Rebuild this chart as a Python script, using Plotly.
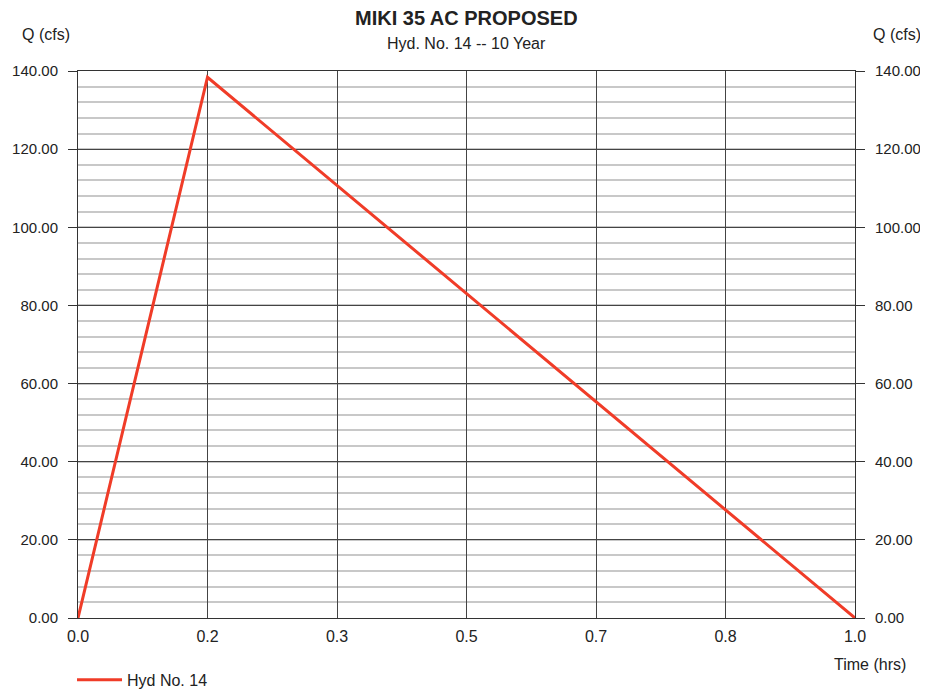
import plotly.graph_objects as go

# Data
time_hrs = [0.0, 1/6, 1.0]
flow_cfs = [0.0, 138.4, 0.0]
x_tick_vals = [0, 1/6, 2/6, 3/6, 4/6, 5/6, 1.0]
x_tick_text = ["0.0", "0.2", "0.3", "0.5", "0.7", "0.8", "1.0"]
y_tick_vals = [0, 20, 40, 60, 80, 100, 120, 140]
y_tick_text = ["0.00", "20.00", "40.00", "60.00", "80.00", "100.00", "120.00", "140.00"]

FONT = "Liberation Sans, Arial, sans-serif"
TXT = "#222222"

W, H = 920, 681
L, R, T, B = 70, 73, 63, 71
PW, PH = W - L - R, H - T - B
OFF = 8  # page body margin


def px(x):
    return (x - OFF - L) / PW


def py(y):
    return (H - B - (y - OFF)) / PH


fig = go.Figure()
fig.add_trace(go.Scatter(
    x=time_hrs, y=flow_cfs, mode="lines", name="Hyd No. 14",
    line=dict(color="#f03c28", width=3), yaxis="y", cliponaxis=False,
))
fig.add_trace(go.Scatter(
    x=time_hrs, y=flow_cfs, mode="lines", yaxis="y2", showlegend=False,
    line=dict(color="rgba(0,0,0,0)"), hoverinfo="skip",
))

yaxis_common = dict(
    range=[0, 140], tickvals=y_tick_vals, ticktext=y_tick_text,
    ticks="outside", ticklen=9, tickcolor="#333333", tickwidth=1,
    ticklabelstandoff=7,
    tickfont=dict(size=15, color=TXT, family=FONT),
    showline=True, linecolor="#333333", linewidth=1,
    zeroline=False, fixedrange=True,
)

fig.update_layout(
    width=W, height=H,
    margin=dict(l=L, r=R, t=T, b=B, autoexpand=False),
    paper_bgcolor="white", plot_bgcolor="white",
    font=dict(family=FONT, color=TXT),
    showlegend=True,
    legend=dict(orientation="h", x=-0.0077, xanchor="left", y=-0.113, yanchor="middle",
                font=dict(size=16, color=TXT, family=FONT), itemwidth=45,
                bgcolor="rgba(0,0,0,0)"),
    xaxis=dict(
        range=[0, 1.0], tickvals=x_tick_vals, ticktext=x_tick_text,
        ticks="", ticklabelstandoff=4,
        tickfont=dict(size=16, color=TXT, family=FONT),
        showgrid=True, gridcolor="#444444", gridwidth=1,
        showline=True, linecolor="#333333", linewidth=1, mirror=True,
        zeroline=False, fixedrange=True,
    ),
    yaxis=dict(
        **yaxis_common, side="left",
        showgrid=True, gridcolor="#444444", gridwidth=1,
        minor=dict(dtick=4, showgrid=True, gridcolor="#c8c8c8", gridwidth=1.5, ticks=""),
    ),
    yaxis2=dict(
        **yaxis_common, side="right", overlaying="y", showgrid=False,
    ),
)

ann_specs = [
    ("<b>MIKI 35 AC PROPOSED</b>", 466, 18, 20, 20),
    ("Hyd. No. 14 -- 10 Year", 466, 44, 16, None),
    ("Q (cfs)", 46, 35, 16, None),
    ("Q (cfs)", 897, 35, 16, None),
    ("Time (hrs)", 870, 664, 16, None),
]
anns = []
for t, x, y, s, h in ann_specs:
    a = dict(text=t, x=px(x), y=py(y), xref="paper", yref="paper",
             xanchor="center", yanchor="middle", showarrow=False,
             font=dict(size=s, color=TXT, family=FONT))
    if h:
        a["height"] = h
    anns.append(a)
fig.update_layout(annotations=anns)

fig.write_html("out.html")
